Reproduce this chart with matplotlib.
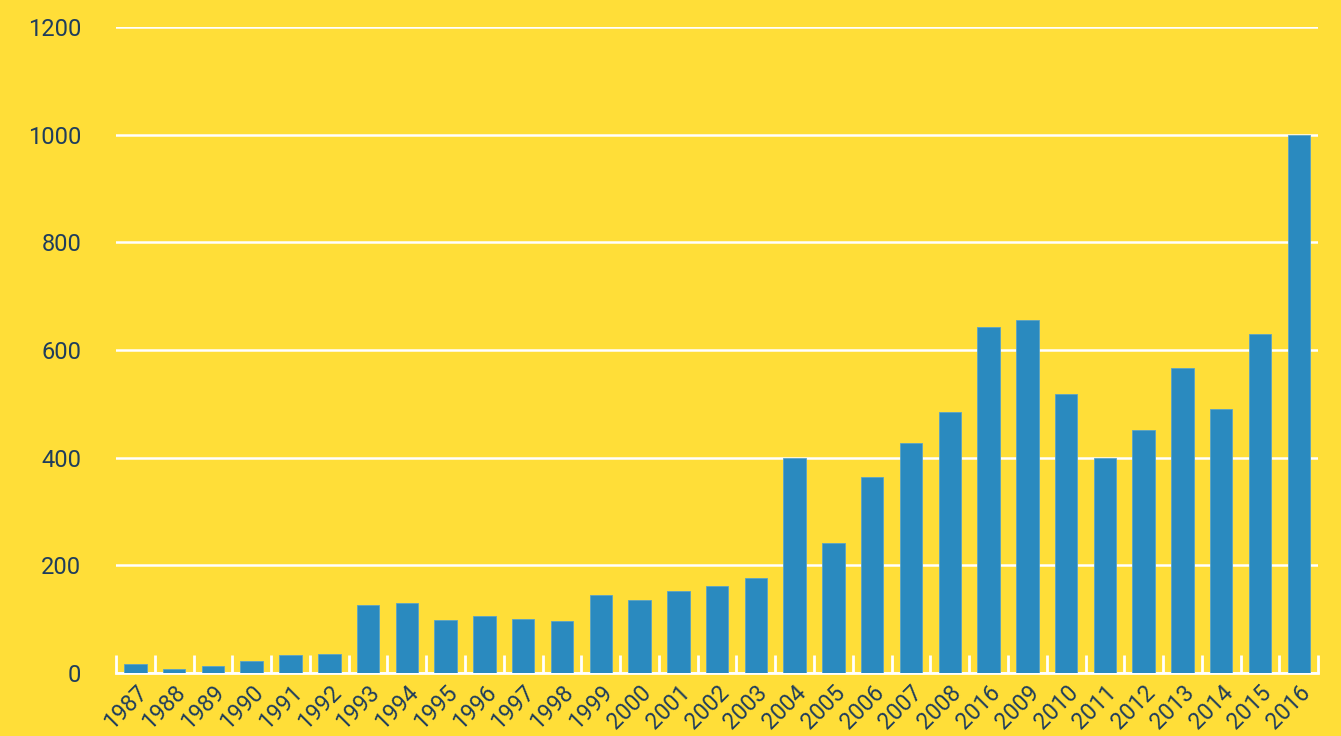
import numpy as np
import matplotlib
matplotlib.use("Agg")
import matplotlib.pyplot as plt

years = ['1987', '1988', '1989', '1990', '1991', '1992', '1993', '1994', '1995', '1996',
         '1997', '1998', '1999', '2000', '2001', '2002', '2003', '2004', '2005', '2006',
         '2007', '2008', '2016', '2009', '2010', '2011', '2012', '2013', '2014', '2015', '2016']
counts = [17, 7, 13, 22, 33, 35, 126, 130, 98, 106,
          100, 96, 145, 135, 152, 161, 176, 400, 242, 364,
          427, 485, 643, 656, 518, 400, 452, 567, 490, 630, 1000]
y_ticks = [0, 200, 400, 600, 800, 1000, 1200]

bg = '#FFDE38'
bar_color = '#2A8ABF'
text_color = '#1F3D5C'

plt.rcParams['font.family'] = ['Roboto', 'DejaVu Sans']

fig = plt.figure(figsize=(13.41, 7.36), dpi=100, facecolor=bg)
ax = fig.add_axes([0.0865, 0.0856, 0.8965, 0.8777], facecolor=bg)

x = np.arange(len(years))
ax.bar(x, counts, width=0.58, color=bar_color, edgecolor='#5aa3c8', linewidth=0.6, zorder=3)

ax.set_xlim(-0.5, len(years) - 0.5)
ax.set_ylim(0, 1200)
ax.set_yticks(y_ticks)
ax.set_yticklabels([str(v) for v in y_ticks], fontsize=17, color=text_color)
ax.tick_params(axis='y', length=0, pad=25)
ax.grid(axis='y', color='white', linewidth=1.8, zorder=1)

ax.set_xticks(x)
ax.set_xticklabels(years, rotation=45, ha='right', rotation_mode='anchor',
                   fontsize=16.5, color=text_color)
ax.tick_params(axis='x', which='major', length=0, pad=6)
ax.set_xticks(np.arange(len(years) + 1) - 0.5, minor=True)
ax.tick_params(axis='x', which='minor', direction='in', length=13, width=2, color='white')

for side in ['top', 'right', 'left']:
    ax.spines[side].set_visible(False)
ax.spines['bottom'].set_color('white')
ax.spines['bottom'].set_linewidth(2)

fig.savefig('out.png', dpi=100, facecolor=bg)
